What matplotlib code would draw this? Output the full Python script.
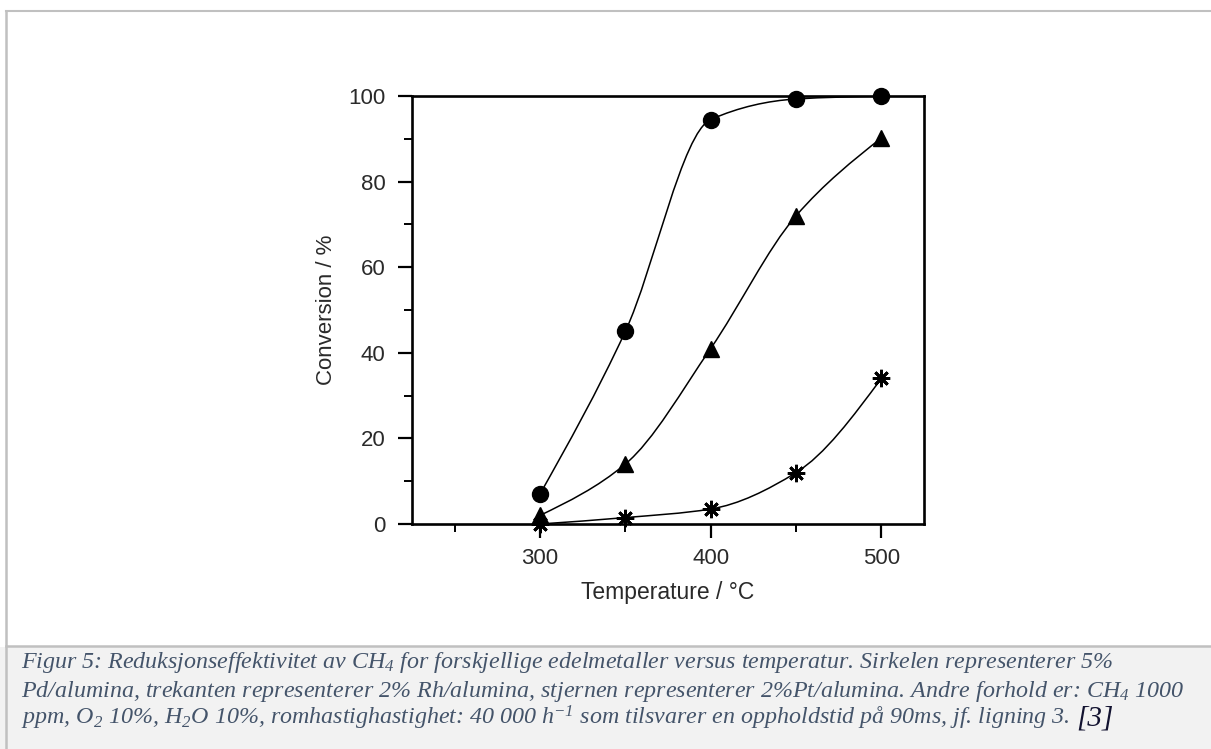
import matplotlib
matplotlib.use("Agg")
import matplotlib.pyplot as plt
import numpy as np
from matplotlib.path import Path
from matplotlib.patches import PathPatch, Rectangle
from matplotlib.lines import Line2D

# data
temps = [300, 350, 400, 450, 500]
pd_conv = [7, 45, 94.5, 99.3, 100]      # circles, 5% Pd/alumina
rh_conv = [2, 14, 41, 72, 90.2]         # triangles, 2% Rh/alumina
pt_conv = [0, 1.5, 3.5, 12, 34]         # stars, 2% Pt/alumina

x_major = [300, 400, 500]
x_minor = [250, 350, 450]
y_major = [0, 20, 40, 60, 80, 100]
y_minor = [10, 30, 50, 70, 90]

caption_lines = [
    "Figur 5: Reduksjonseffektivitet av CH$_4$ for forskjellige edelmetaller versus temperatur. Sirkelen representerer 5%",
    "Pd/alumina, trekanten representerer 2% Rh/alumina, stjernen representerer 2%Pt/alumina. Andre forhold er: CH$_4$ 1000",
    "ppm, O$_2$ 10%, H$_2$O 10%, romhastighastighet: 40 000 h$^{-1}$ som tilsvarer en oppholdstid på 90ms, jf. ligning 3.",
]
caption_ref = "[3]"

plt.rcParams["mathtext.fontset"] = "custom"
plt.rcParams["mathtext.rm"] = "Liberation Serif:italic"
plt.rcParams["mathtext.it"] = "Liberation Serif:italic"


def smooth_path(xs, ys):
    # monotone cubic (pchip style) tangents, drawn as bezier segments
    xs = np.asarray(xs, float)
    ys = np.asarray(ys, float)
    h = np.diff(xs)
    d = np.diff(ys) / h
    m = np.zeros_like(ys)
    for i in range(1, len(xs) - 1):
        if d[i - 1] * d[i] > 0:
            m[i] = 2.0 / (1.0 / d[i - 1] + 1.0 / d[i])
    m[0] = max(0.0, (3 * d[0] - m[1]) / 2)
    m[-1] = max(0.0, (3 * d[-1] - m[-2]) / 2)
    verts = [(xs[0], ys[0])]
    codes = [Path.MOVETO]
    for i in range(len(xs) - 1):
        verts += [(xs[i] + h[i] / 3, ys[i] + m[i] * h[i] / 3),
                  (xs[i + 1] - h[i] / 3, ys[i + 1] - m[i + 1] * h[i] / 3),
                  (xs[i + 1], ys[i + 1])]
        codes += [Path.CURVE4] * 3
    return Path(verts, codes)


W, H = 1211, 749
fig = plt.figure(figsize=(W / 100, H / 100), dpi=100)

# page frame + caption box
fig.patches.append(Rectangle((0.0, 0.0), 1.0, 1 - 647 / H, transform=fig.transFigure,
                             facecolor="#f2f2f2", edgecolor="none", zorder=0))
fig.lines.append(Line2D([6 / W, 1.0], [1 - 11 / H] * 2, transform=fig.transFigure,
                        color="#c0c0c0", lw=1.5))
fig.lines.append(Line2D([6 / W] * 2, [0.0, 1 - 11 / H], transform=fig.transFigure,
                        color="#c0c0c0", lw=1.8))
fig.lines.append(Line2D([6 / W, 1.0], [1 - 646 / H] * 2, transform=fig.transFigure,
                        color="#c0c0c0", lw=1.8))

ax = fig.add_axes([412 / W, 225 / H, 512 / W, 428 / H])
ax.set_xlim(225, 525)
ax.set_ylim(0, 100)

for ys in (pd_conv, rh_conv, pt_conv):
    ax.add_patch(PathPatch(smooth_path(temps, ys), facecolor="none",
                           edgecolor="black", lw=1.1, zorder=2))

ax.plot(temps, pd_conv, "o", ms=11.5, color="black", zorder=3, clip_on=False)
ax.plot(temps, rh_conv, "^", ms=11.5, color="black", zorder=3, clip_on=False)
ax.plot(temps, pt_conv, marker=(8, 2, 0), ls="none", ms=12.5, mew=2,
        color="black", zorder=3, clip_on=False)

for s in ax.spines.values():
    s.set_linewidth(1.9)

ax.set_xticks(x_major)
ax.set_xticks(x_minor, minor=True)
ax.set_yticks(y_major)
ax.set_yticks(y_minor, minor=True)
ax.tick_params(which="major", direction="out", length=10, width=1.6,
               labelsize=16, labelcolor="#2a2a2a")
ax.tick_params(axis="y", which="major", pad=9)
ax.tick_params(axis="x", which="major", pad=7)
ax.tick_params(which="minor", direction="out", length=6, width=1.4)
for lab in ax.get_xticklabels() + ax.get_yticklabels():
    lab.set_family("Liberation Sans")

ax.set_xlabel("Temperature / °C", fontsize=16.5, family="Liberation Sans",
              color="#2a2a2a", labelpad=9)
ax.set_ylabel("Conversion / %", fontsize=16, family="Liberation Sans",
              color="#2a2a2a", labelpad=8)

# caption
cap_kw = dict(fontsize=17.3, family="Liberation Serif", style="italic",
              color="#44546a", va="baseline", ha="left")
base0 = 668
step = 28.5
last = None
for i, line in enumerate(caption_lines):
    last = fig.text(21 / W, 1 - (base0 + i * step) / H, line, **cap_kw)
fig.canvas.draw()
bb = last.get_window_extent(renderer=fig.canvas.get_renderer())
fig.text((bb.x1 + 7) / W, 1 - (base0 + 2 * step) / H, caption_ref, fontsize=21,
         family="Liberation Serif", style="italic", color="#121230",
         va="baseline", ha="left")

fig.savefig("out.png", dpi=100)
